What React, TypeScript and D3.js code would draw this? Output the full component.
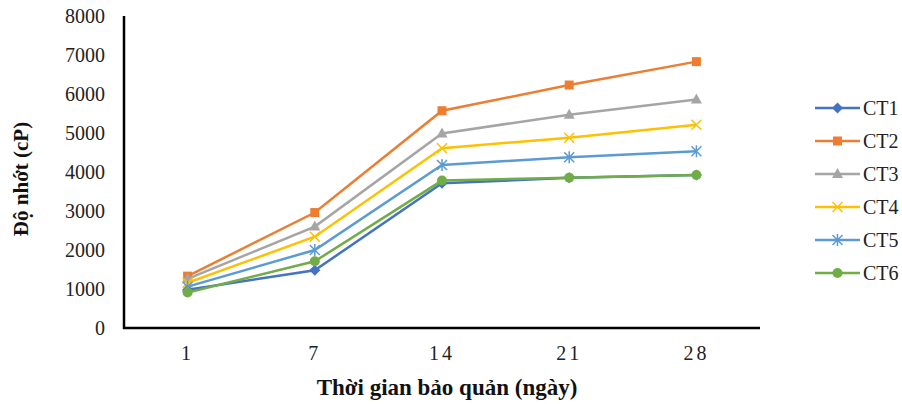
import React from "react";
import * as d3 from "d3";

const days = ["1", "7", "14", "21", "28"];
const seriesNames = ["CT1", "CT2", "CT3", "CT4", "CT5", "CT6"];
const ct1 = [980, 1480, 3710, 3850, 3920];
const ct2 = [1330, 2960, 5570, 6230, 6830];
const ct3 = [1260, 2600, 4990, 5470, 5860];
const ct4 = [1160, 2340, 4610, 4880, 5210];
const ct5 = [1060, 2000, 4180, 4380, 4530];
const ct6 = [910, 1710, 3780, 3855, 3925];
const yTicks = [0, 1000, 2000, 3000, 4000, 5000, 6000, 7000, 8000];

const seriesValues = [ct1, ct2, ct3, ct4, ct5, ct6];
const colors = ["#4472C4", "#ED7D31", "#A5A5A5", "#FFC000", "#5B9BD5", "#70AD47"];
const markers = ["diamond", "square", "triangle", "x", "asterisk", "circle"];

const FONT = "'Liberation Serif', 'Times New Roman', 'DejaVu Serif', serif";

function Marker({ type, color, x, y }: { type: string; color: string; x: number; y: number }) {
  const t = `translate(${x},${y})`;
  if (type === "diamond") {
    return <path transform={t} d="M0,-5.5L5.5,0L0,5.5L-5.5,0Z" fill={color} />;
  }
  if (type === "square") {
    return <rect transform={t} x={-4.5} y={-4.5} width={9} height={9} fill={color} />;
  }
  if (type === "triangle") {
    return <path transform={t} d="M0,-6L5.5,4L-5.5,4Z" fill={color} />;
  }
  if (type === "circle") {
    return <circle transform={t} r={5} fill={color} />;
  }
  if (type === "x") {
    return (
      <path transform={t} d="M-5,-5L5,5M-5,5L5,-5" stroke={color} strokeWidth={1.5} fill="none" />
    );
  }
  return (
    <path
      transform={t}
      d="M-5,-5L5,5M-5,5L5,-5M0,-6L0,6"
      stroke={color}
      strokeWidth={1.5}
      fill="none"
    />
  );
}

export default function App() {
  const width = 902;
  const height = 404;
  const left = 124;
  const right = 760;
  const top = 16;
  const bottom = 328;

  const x = d3.scaleBand<string>().domain(days).range([left, right]);
  const y = d3.scaleLinear().domain([0, 8000]).range([bottom, top]);
  const cx = (d: string) => (x(d) as number) + x.bandwidth() / 2;

  const line = d3
    .line<number>()
    .x((_, i) => cx(days[i]))
    .y((v) => y(v));

  const legendY0 = 108;
  const legendStep = 33;

  return (
    <svg
      width={width}
      height={height}
      style={{ position: "absolute", left: 0, top: 0, background: "#fff" }}
    >
      {yTicks.map((t) => (
        <text
          key={t}
          x={105}
          y={y(t)}
          dy="0.35em"
          textAnchor="end"
          fontFamily={FONT}
          fontSize={20}
          fill="#222"
        >
          {t}
        </text>
      ))}
      {days.map((d) => (
        <text
          key={d}
          x={cx(d)}
          y={360}
          textAnchor="middle"
          fontFamily={FONT}
          fontSize={20}
          letterSpacing={3}
          fill="#222"
        >
          {d}
        </text>
      ))}
      {seriesValues.map((vals, si) => (
        <g key={seriesNames[si]}>
          <path d={line(vals) || ""} fill="none" stroke={colors[si]} strokeWidth={2.5} />
          {vals.map((v, i) => (
            <Marker key={i} type={markers[si]} color={colors[si]} x={cx(days[i])} y={y(v)} />
          ))}
        </g>
      ))}
      <line x1={left} x2={left} y1={top} y2={bottom + 1} stroke="#000" strokeWidth={2.5} />
      <line x1={left - 1} x2={right} y1={bottom} y2={bottom} stroke="#000" strokeWidth={2.5} />
      <text
        x={447}
        y={395}
        textAnchor="middle"
        fontFamily={FONT}
        fontSize={23}
        fontWeight="bold"
        fill="#111"
      >
        Thời gian bảo quản (ngày)
      </text>
      <text
        transform={`translate(28,${179}) rotate(-90)`}
        textAnchor="middle"
        fontFamily={FONT}
        fontSize={21}
        fontWeight="bold"
        fill="#111"
      >
        Độ nhớt (cP)
      </text>
      {seriesNames.map((n, si) => {
        const ly = legendY0 + si * legendStep;
        return (
          <g key={n}>
            <line x1={815} x2={860} y1={ly} y2={ly} stroke={colors[si]} strokeWidth={2.5} />
            <Marker type={markers[si]} color={colors[si]} x={837.5} y={ly} />
            <text x={863} y={ly} dy="0.35em" fontFamily={FONT} fontSize={20} fill="#222">
              {n}
            </text>
          </g>
        );
      })}
    </svg>
  );
}
